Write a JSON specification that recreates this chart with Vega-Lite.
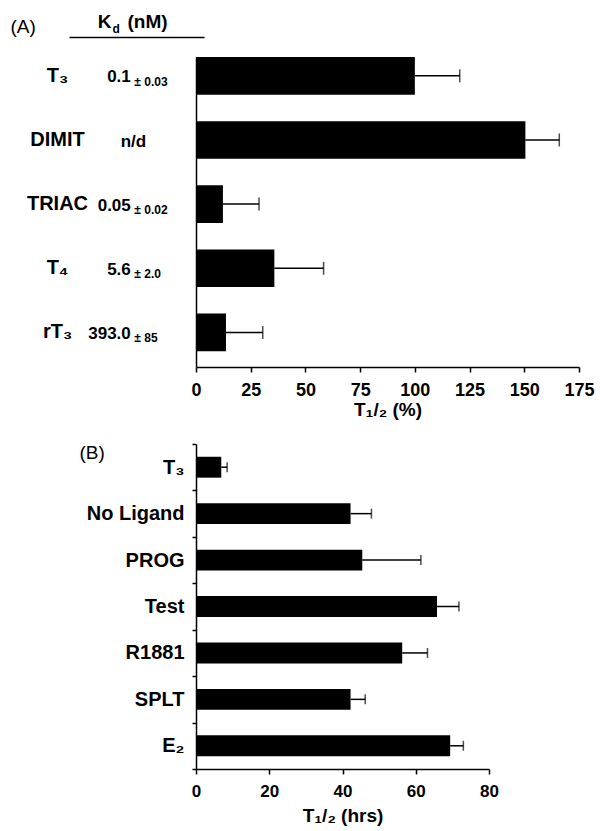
{
  "$schema": "https://vega.github.io/schema/vega-lite/v6.json",
  "background": "white",
  "padding": {"left": 10, "top": 13, "right": 4, "bottom": 4},
  "spacing": 15,
  "bounds": "full",
  "config": {
    "font": "Liberation Sans",
    "view": {"stroke": null},
    "axis": {"domainColor": "black", "domainWidth": 1.5, "tickColor": "black", "tickWidth": 1.5, "labelColor": "black", "titleColor": "black", "labelFontWeight": "bold", "titleFontWeight": "bold", "grid": false, "labelFont": "Liberation Sans", "titleFont": "Liberation Sans", "labelFlush": false},
    "text": {"color": "black", "font": "Liberation Sans"}
  },
  "datasets": {
    "header": [{"tag": "(A)", "k": "K", "sub": "d", "unit": "(nM)"}],
    "panelA": [
      {"name": "T₃", "value": 100, "upper": 120.5, "kd": "0.1", "pm": "± 0.03"},
      {"name": "DIMIT", "value": 150.5, "upper": 166, "kd": "n/d", "pm": ""},
      {"name": "TRIAC", "value": 12.3, "upper": 28.8, "kd": "0.05", "pm": "± 0.02"},
      {"name": "T₄", "value": 35.8, "upper": 58.3, "kd": "5.6", "pm": "± 2.0"},
      {"name": "rT₃", "value": 13.7, "upper": 30.5, "kd": "393.0", "pm": "± 85"}
    ],
    "panelB": [
      {"name": "T₃", "value": 6.9, "upper": 8.5, "tag": "(B)"},
      {"name": "No Ligand", "value": 42.2, "upper": 47.9, "tag": ""},
      {"name": "PROG", "value": 45.4, "upper": 61.4, "tag": ""},
      {"name": "Test", "value": 65.8, "upper": 71.8, "tag": ""},
      {"name": "R1881", "value": 56.3, "upper": 63.2, "tag": ""},
      {"name": "SPLT", "value": 42.2, "upper": 46.2, "tag": ""},
      {"name": "E₂", "value": 69.4, "upper": 73.0, "tag": ""}
    ]
  },
  "vconcat": [
    {
      "width": 383,
      "height": 9,
      "data": {"name": "header"},
      "layer": [
        {
          "mark": {"type": "text", "align": "left", "baseline": "alphabetic", "fontSize": 19, "dy": -5},
          "encoding": {"x": {"datum": -84.8, "type": "quantitative", "scale": {"domain": [0, 175], "nice": false, "zero": false}, "axis": null}, "text": {"field": "tag"}}
        },
        {
          "mark": {"type": "text", "align": "right", "baseline": "alphabetic", "fontSize": 19, "fontWeight": "bold", "dy": -9.3},
          "encoding": {"x": {"datum": -38.6, "type": "quantitative", "axis": null}, "text": {"field": "k"}}
        },
        {
          "mark": {"type": "text", "align": "left", "baseline": "alphabetic", "fontSize": 12, "fontWeight": "bold", "dy": -4.3},
          "encoding": {"x": {"datum": -38.15, "type": "quantitative", "axis": null}, "text": {"field": "sub"}}
        },
        {
          "mark": {"type": "text", "align": "left", "baseline": "alphabetic", "fontSize": 19, "fontWeight": "bold", "dy": -9.3},
          "encoding": {"x": {"datum": -31.3, "type": "quantitative", "axis": null}, "text": {"field": "unit"}}
        },
        {
          "mark": {"type": "rule", "color": "black", "strokeWidth": 1.5},
          "encoding": {"x": {"datum": -57.8, "type": "quantitative", "axis": null}, "x2": {"datum": 3.9}}
        }
      ]
    },
    {
      "width": 383,
      "height": 310,
      "data": {"name": "panelA"},
      "encoding": {
        "y": {
          "field": "name", "type": "nominal", "sort": null,
          "scale": {"paddingInner": 0.413, "paddingOuter": 0.123, "align": 0},
          "axis": {"title": null, "labelAlign": "center", "labelPadding": 139, "ticks": false, "tickSize": 0, "labelFontSize": 20, "labelBaseline": "middle"}
        }
      },
      "layer": [
        {
          "mark": {"type": "bar", "color": "black"},
          "encoding": {
            "x": {
              "field": "value", "type": "quantitative",
              "scale": {"domain": [0, 175], "nice": false},
              "axis": {"values": [0, 25, 50, 75, 100, 125, 150, 175], "tickSize": 5, "labelPadding": 9, "labelFontSize": 18, "title": "T₁/₂ (%)", "titleFontSize": 19, "titlePadding": 1}
            }
          }
        },
        {
          "mark": {"type": "rule", "color": "black", "strokeWidth": 1.5},
          "encoding": {"x": {"field": "value", "type": "quantitative"}, "x2": {"field": "upper"}}
        },
        {
          "mark": {"type": "tick", "color": "black", "thickness": 1.5, "size": 13},
          "encoding": {"x": {"field": "upper", "type": "quantitative"}}
        },
        {
          "transform": [{"filter": "datum.kd != 'n/d'"}],
          "mark": {"type": "text", "align": "right", "baseline": "middle", "fontSize": 17, "fontWeight": "bold", "dy": 1.5},
          "encoding": {"x": {"datum": -29.8, "type": "quantitative"}, "text": {"field": "kd"}}
        },
        {
          "transform": [{"filter": "datum.kd == 'n/d'"}],
          "mark": {"type": "text", "align": "center", "baseline": "middle", "fontSize": 17, "fontWeight": "bold", "dy": 2.5},
          "encoding": {"x": {"datum": -28.6, "type": "quantitative"}, "text": {"field": "kd"}}
        },
        {
          "mark": {"type": "text", "align": "left", "baseline": "middle", "fontSize": 12, "fontWeight": "bold", "dy": 6},
          "encoding": {"x": {"datum": -28.2, "type": "quantitative"}, "text": {"field": "pm"}}
        }
      ]
    },
    {
      "width": 293,
      "height": 325,
      "data": {"name": "panelB"},
      "encoding": {
        "y": {
          "field": "name", "type": "nominal", "sort": null,
          "scale": {"paddingInner": 0, "paddingOuter": 0},
          "axis": {"title": null, "tickBand": "extent", "tickSize": 4, "labelPadding": 8, "labelFontSize": 20}
        }
      },
      "layer": [
        {
          "mark": {"type": "bar", "color": "black", "height": {"band": 0.45}},
          "encoding": {
            "x": {
              "field": "value", "type": "quantitative",
              "scale": {"domain": [0, 80], "nice": false},
              "axis": {"values": [0, 20, 40, 60, 80], "tickSize": 5, "labelPadding": 9, "labelFontSize": 17, "title": "T₁/₂ (hrs)", "titleFontSize": 19, "titlePadding": 7.5}
            }
          }
        },
        {
          "mark": {"type": "rule", "color": "black", "strokeWidth": 1.5},
          "encoding": {"x": {"field": "value", "type": "quantitative"}, "x2": {"field": "upper"}}
        },
        {
          "mark": {"type": "tick", "color": "black", "thickness": 1.5, "size": 10},
          "encoding": {"x": {"field": "upper", "type": "quantitative"}}
        },
        {
          "mark": {"type": "text", "align": "left", "baseline": "middle", "fontSize": 19, "dy": -14.7},
          "encoding": {"x": {"datum": -31.8, "type": "quantitative"}, "text": {"field": "tag"}}
        }
      ]
    }
  ]
}
